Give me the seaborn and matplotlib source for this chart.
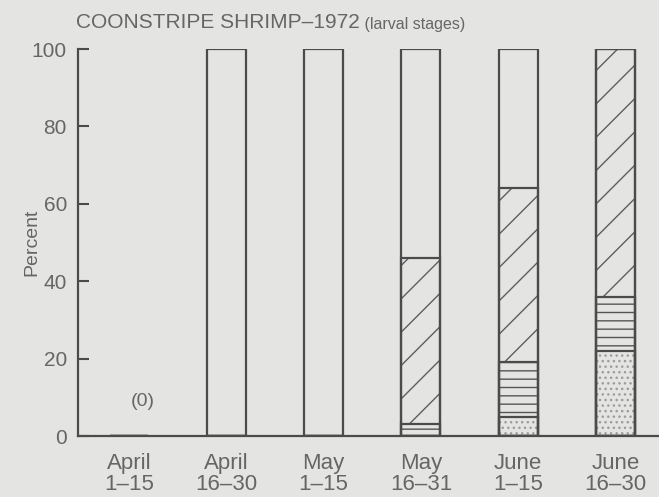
import matplotlib
matplotlib.use("Agg")
import matplotlib.pyplot as plt
import seaborn as sns
import pandas as pd

# Half-month sampling periods
periods = ["April\n1–15", "April\n16–30", "May\n1–15",
           "May\n16–31", "June\n1–15", "June\n16–30"]

# Percent of larvae in each stage per period (bottom of stack first)
stage_stippled = [0, 0, 0, 0, 5, 22]
stage_lined = [0, 0, 0, 3, 14, 14]
stage_diagonal = [0, 0, 0, 43, 45, 64]
stage_open = [0, 100, 100, 54, 36, 0]

y_ticks = [0, 20, 40, 60, 80, 100]

BG = "#e4e4e2"
INK = "#4b4b4b"
TXT = "#666666"

sns.set_theme(style="white")
plt.rcParams["font.family"] = ["Liberation Sans", "DejaVu Sans"]
plt.rcParams["hatch.linewidth"] = 1.0

fig = plt.figure(figsize=(6.59, 4.97), dpi=100, facecolor=BG)
ax = fig.add_axes([0.1184, 0.1227, 0.8816, 0.7787])
ax.set_facecolor(BG)

# cumulative tops of each stacked segment
cum_stip = list(stage_stippled)
cum_line = [a + b for a, b in zip(cum_stip, stage_lined)]
cum_diag = [a + b for a, b in zip(cum_line, stage_diagonal)]
cum_total = [a + b for a, b in zip(cum_diag, stage_open)]

fills = [
    (cum_total, None, INK),
    (cum_diag, "/", "#5e5e5e"),
    (cum_line, "--", "#555555"),
    (cum_stip, "...", "#9c9c9c"),
]

# filled, hatched segments (tallest first so shorter ones sit on top)
for heights, hatch, hcol in fills:
    df = pd.DataFrame({"period": periods, "pct": heights})
    sns.barplot(data=df, x="period", y="pct", order=periods, color=BG,
                saturation=1, width=0.4, errorbar=None, ax=ax)
    for bar in ax.containers[-1]:
        bar.set_facecolor(BG)
        bar.set_hatch(hatch)
        bar.set_edgecolor(hcol)
        bar.set_linewidth(0)

# dark outlines around every segment
for heights in [cum_total, cum_diag, cum_line, cum_stip]:
    df = pd.DataFrame({"period": periods, "pct": heights})
    sns.barplot(data=df, x="period", y="pct", order=periods, color=BG,
                saturation=1, width=0.4, errorbar=None, ax=ax)
    for bar in ax.containers[-1]:
        bar.set_facecolor("none")
        bar.set_edgecolor(INK)
        bar.set_linewidth(1.6)

ax.text(0.14, 9, "(0)", ha="center", va="center", fontsize=14, color=TXT)

ax.set_xlim(-0.524, 5.447)
ax.set_ylim(0, 100)
ax.set_yticks(y_ticks)
ax.set_xlabel("")
ax.set_ylabel("Percent", fontsize=14, color=TXT)
ax.yaxis.set_label_coords(-0.064, 0.5)

ax.tick_params(axis="y", direction="in", length=8, width=1.5, color=INK,
               labelsize=15, labelcolor=TXT, pad=8, left=True)
ax.tick_params(axis="x", length=0, labelsize=16, labelcolor=TXT, pad=12)
for lab in ax.get_xticklabels():
    lab.set_linespacing(1.0)

for side in ["top", "right"]:
    ax.spines[side].set_visible(False)
for side in ["left", "bottom"]:
    ax.spines[side].set_color(INK)
    ax.spines[side].set_linewidth(1.6)

t1 = fig.text(76 / 659, 1 - 28 / 497, "COONSTRIPE SHRIMP–1972", fontsize=15,
              color=TXT, ha="left", va="baseline")
fig.canvas.draw()
ax.annotate(" (larval stages)", xy=(1, 0), xycoords=t1, fontsize=11.5,
            color=TXT, ha="left", va="bottom")

fig.savefig("out.png", dpi=100, facecolor=BG)
